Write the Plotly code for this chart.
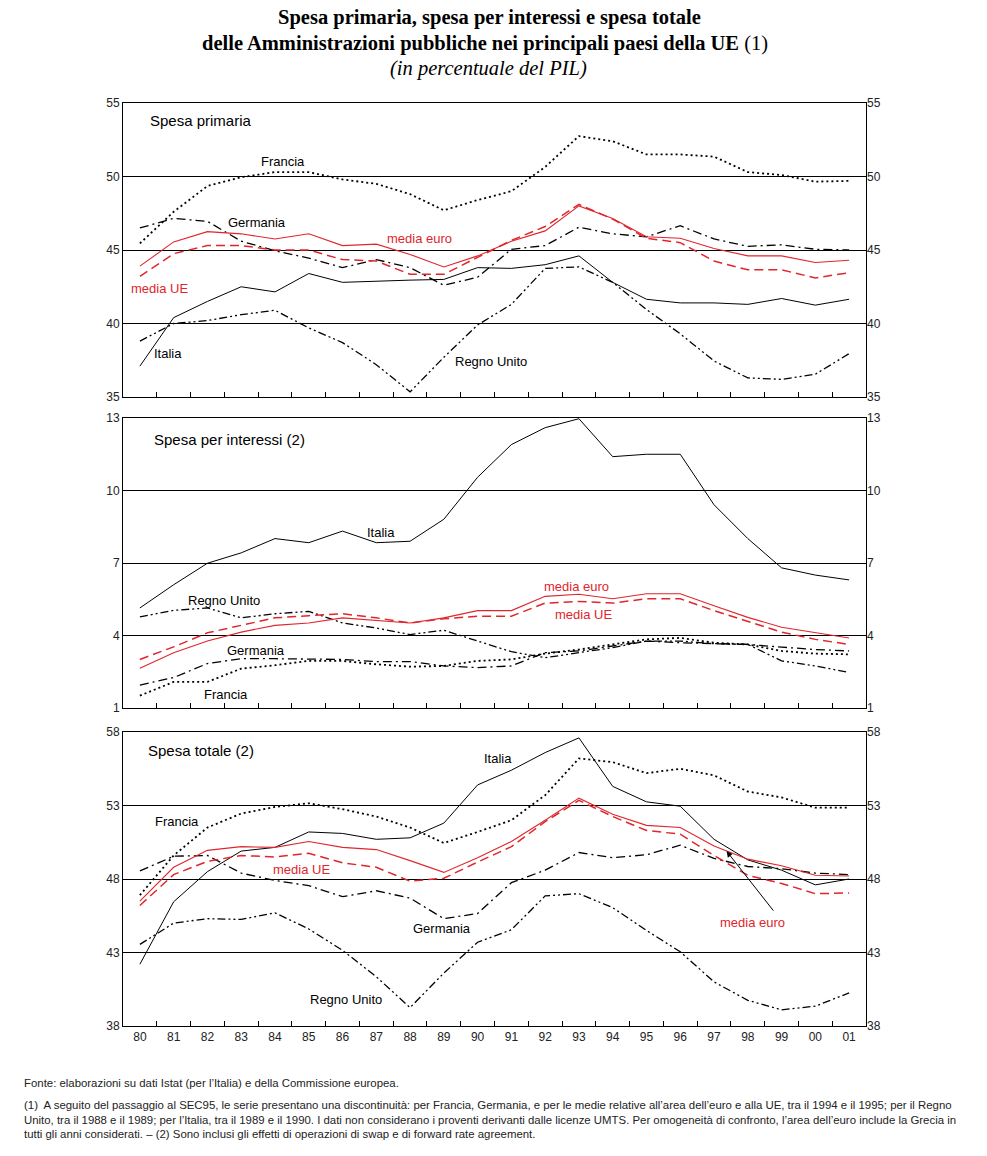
import plotly.graph_objects as go

years = ["80", "81", "82", "83", "84", "85", "86", "87", "88", "89", "90",
         "91", "92", "93", "94", "95", "96", "97", "98", "99", "00", "01"]

# Panel 1 - Spesa primaria
p_italia = [37.1, 40.4, 41.5, 42.5, 42.15, 43.4, 42.8, 42.9, 42.95, 43.0, 43.8,
            43.75, 44.0, 44.6, 42.8, 41.65, 41.4, 41.4, 41.3, 41.7, 41.25, 41.65]
p_francia = [45.45, 47.6, 49.35, 49.95, 50.3, 50.3, 49.8, 49.5, 48.8, 47.7, 48.4,
             49.0, 50.65, 52.75, 52.4, 51.5, 51.5, 51.35, 50.3, 50.1, 49.65, 49.7]
p_germania = [46.5, 47.15, 46.95, 45.6, 44.95, 44.45, 43.8, 44.35, 43.8, 42.6, 43.15,
              45.05, 45.3, 46.55, 46.1, 45.9, 46.65, 45.75, 45.25, 45.35, 45.05, 45.0]
p_regno = [38.8, 40.0, 40.2, 40.6, 40.9, 39.7, 38.7, 37.2, 35.35, 37.7, 39.9,
           41.3, 43.75, 43.85, 42.8, 40.95, 39.3, 37.45, 36.3, 36.2, 36.55, 37.95]
p_euro = [43.9, 45.55, 46.25, 46.1, 45.75, 46.1, 45.3, 45.4, 44.7, 43.85, 44.6,
          45.6, 46.3, 48.0, 47.15, 45.9, 45.8, 45.1, 44.6, 44.6, 44.15, 44.3]
p_ue = [43.2, 44.75, 45.3, 45.3, 45.0, 45.0, 44.35, 44.25, 43.35, 43.35, 44.5,
        45.65, 46.6, 48.1, 47.1, 45.8, 45.5, 44.25, 43.65, 43.65, 43.1, 43.45]

# Panel 2 - Spesa per interessi
i_italia = [5.14, 6.1, 6.99, 7.42, 8.01, 7.84, 8.32, 7.84, 7.9, 8.81, 10.55,
            11.9, 12.6, 12.97, 11.4, 11.5, 11.5, 9.41, 8.01, 6.8, 6.5, 6.3]
i_regno = [4.77, 5.04, 5.14, 4.73, 4.9, 5.0, 4.52, 4.31, 4.04, 4.22, 3.77,
           3.33, 3.08, 3.29, 3.5, 3.77, 3.77, 3.66, 3.63, 2.95, 2.74, 2.47]
i_germania = [1.95, 2.26, 2.84, 3.04, 3.04, 3.04, 3.01, 2.92, 2.92, 2.74, 2.67,
              2.74, 3.29, 3.36, 3.56, 3.77, 3.7, 3.66, 3.63, 3.52, 3.42, 3.36]
i_francia = [1.51, 2.08, 2.08, 2.63, 2.77, 2.95, 2.95, 2.81, 2.71, 2.74, 2.95,
             3.01, 3.25, 3.42, 3.63, 3.84, 3.9, 3.7, 3.63, 3.36, 3.25, 3.22]
i_euro = [2.64, 3.29, 3.77, 4.14, 4.42, 4.52, 4.73, 4.62, 4.52, 4.73, 5.03,
          5.03, 5.62, 5.71, 5.52, 5.73, 5.73, 5.23, 4.75, 4.34, 4.11, 3.9]
i_ue = [3.01, 3.53, 4.11, 4.41, 4.73, 4.82, 4.9, 4.73, 4.52, 4.69, 4.8,
        4.8, 5.34, 5.41, 5.34, 5.52, 5.52, 5.03, 4.59, 4.14, 3.84, 3.63]

# Panel 3 - Spesa totale
t_italia = [42.2, 46.45, 48.5, 49.9, 50.15, 51.2, 51.1, 50.7, 50.8, 51.8, 54.4,
            55.4, 56.6, 57.6, 54.3, 53.25, 52.95, 50.7, 49.3, 48.6, 47.6, 48.0]
t_francia = [46.9, 49.6, 51.5, 52.45, 52.9, 53.15, 52.75, 52.25, 51.5, 50.45, 51.2,
             52.0, 53.7, 56.2, 55.95, 55.2, 55.5, 55.05, 53.95, 53.55, 52.85, 52.85]
t_germania = [48.55, 49.55, 49.6, 48.4, 47.9, 47.55, 46.8, 47.2, 46.7, 45.3, 45.65,
              47.75, 48.6, 49.8, 49.45, 49.65, 50.3, 49.4, 48.85, 48.7, 48.4, 48.3]
t_regno = [43.55, 45.0, 45.3, 45.25, 45.7, 44.6, 43.15, 41.35, 39.25, 41.6, 43.7,
           44.55, 46.85, 47.0, 46.05, 44.5, 43.05, 41.0, 39.75, 39.1, 39.35, 40.25]
t_euro = [46.5, 48.8, 49.95, 50.2, 50.15, 50.55, 50.15, 50.0, 49.25, 48.45, 49.45,
          50.55, 52.0, 53.5, 52.4, 51.65, 51.5, 50.25, 49.35, 48.9, 48.25, 48.2]
t_ue = [46.2, 48.3, 49.2, 49.6, 49.5, 49.75, 49.1, 48.8, 47.85, 48.05, 49.15,
        50.2, 51.9, 53.35, 52.25, 51.3, 51.05, 49.6, 48.25, 47.7, 47.0, 47.05]

RED = "#e0262d"
BLACK = "#000000"
styles = {
    "Italia": dict(color=BLACK, width=1, dash="solid"),
    "Francia": dict(color=BLACK, width=1.8, dash="2px,3px"),
    "Germania": dict(color=BLACK, width=1.3, dash="9px,4px,2px,4px"),
    "Regno Unito": dict(color=BLACK, width=1.3, dash="8px,3px,2px,3px,2px,3px"),
    "media euro": dict(color=RED, width=1.1, dash="solid"),
    "media UE": dict(color=RED, width=1.5, dash="9px,5px"),
}

panels = [
    ("x", "y", {"Italia": p_italia, "Francia": p_francia, "Germania": p_germania,
                "Regno Unito": p_regno, "media euro": p_euro, "media UE": p_ue}),
    ("x2", "y2", {"Italia": i_italia, "Francia": i_francia, "Germania": i_germania,
                  "Regno Unito": i_regno, "media euro": i_euro, "media UE": i_ue}),
    ("x3", "y3", {"Italia": t_italia, "Francia": t_francia, "Germania": t_germania,
                  "Regno Unito": t_regno, "media euro": t_euro, "media UE": t_ue}),
]

fig = go.Figure()
for xa, ya, series in panels:
    for name, vals in series.items():
        fig.add_trace(go.Scatter(x=years, y=vals, xaxis=xa, yaxis=ya, mode="lines",
                                 line=styles[name], name=name, showlegend=False,
                                 hoverinfo="skip"))
# invisible traces to carry the right-hand axes
for xa, ya, series in zip(["x", "x2", "x3"], ["y4", "y5", "y6"], [p[2] for p in panels]):
    fig.add_trace(go.Scatter(x=years, y=series["Italia"], xaxis=xa, yaxis=ya, mode="lines",
                             line=dict(width=0), opacity=0, showlegend=False,
                             hoverinfo="skip"))

L, R, T, B = 123, 121, 103, 130
W, H = 987, 1156
PH = H - T - B
PW = W - L - R


def fy(py):
    return (H - B - py) / PH


def fx(px):
    return (px - L) / PW


dom1 = [fy(397), fy(103)]
dom2 = [fy(708), fy(418)]
dom3 = [fy(1026), fy(732)]

tickfont = dict(family="Liberation Sans, Arial, sans-serif", size=12, color="#222")


def xaxis(anchor, labels):
    return dict(anchor=anchor, type="category", range=[-0.5, 21.5],
                tickson="boundaries", ticks="inside", ticklen=5, tickcolor=BLACK,
                showline=True, linecolor=BLACK, linewidth=1, mirror=True,
                showgrid=False, zeroline=False, showticklabels=labels,
                tickfont=tickfont, fixedrange=True)


def yaxis(anchor, dom, rng, dt):
    return dict(anchor=anchor, domain=dom, range=rng, tick0=rng[0], dtick=dt,
                showgrid=True, gridcolor=BLACK, gridwidth=1, zeroline=False,
                showline=True, linecolor=BLACK, linewidth=1, mirror=True,
                ticks="", tickfont=tickfont, fixedrange=True)


def yright(over, anchor, rng, dt):
    return dict(overlaying=over, anchor=anchor, side="right", range=rng,
                tick0=rng[0], dtick=dt, showgrid=False, zeroline=False,
                showline=False, ticks="", tickfont=tickfont, fixedrange=True)


fig.update_layout(
    width=W, height=H,
    margin=dict(l=L, r=R, t=T, b=B),
    paper_bgcolor="white", plot_bgcolor="white",
    xaxis=xaxis("y", False), xaxis2=xaxis("y2", False), xaxis3=xaxis("y3", True),
    yaxis=yaxis("x", dom1, [35, 55], 5),
    yaxis2=yaxis("x2", dom2, [1, 13], 3),
    yaxis3=yaxis("x3", dom3, [38, 58], 5),
    yaxis4=yright("y", "x", [35, 55], 5),
    yaxis5=yright("y2", "x2", [1, 13], 3),
    yaxis6=yright("y3", "x3", [38, 58], 5),
)

lab = dict(family="Liberation Sans, Arial, sans-serif", size=13, color=BLACK)
labr = dict(family="Liberation Sans, Arial, sans-serif", size=13, color=RED)
head = dict(family="Liberation Sans, Arial, sans-serif", size=15, color=BLACK)

ann = []


def add(text, x, y, xr, yr, font, xanchor="center"):
    ann.append(dict(text=text, x=x, y=y, xref=xr, yref=yr, showarrow=False,
                    font=font, xanchor=xanchor, yanchor="middle"))


# Panel 1 labels
add("Spesa primaria", 0.24, 53.8, "x", "y", head, "left")
add("Francia", 4.23, 51.04, "x", "y", lab)
add("Germania", 3.46, 46.9, "x", "y", lab)
add("media euro", 8.28, 45.8, "x", "y", labr)
add("media UE", 0.59, 42.4, "x", "y", labr)
add("Italia", 0.83, 37.98, "x", "y", lab)
add("Regno Unito", 10.41, 37.44, "x", "y", lab)
# Panel 2 labels
add("Spesa per interessi (2)", 0.36, 12.13, "x2", "y2", head, "left")
add("Italia", 7.13, 8.28, "x2", "y2", lab)
add("Regno Unito", 2.49, 5.45, "x2", "y2", lab)
add("Germania", 3.43, 3.4, "x2", "y2", lab)
add("Francia", 2.54, 1.56, "x2", "y2", lab)
add("media euro", 12.93, 6.02, "x2", "y2", labr)
add("media UE", 13.14, 4.88, "x2", "y2", labr)
# Panel 3 labels
add("Spesa totale (2)", 0.18, 56.77, "x3", "y3", head, "left")
add("Italia", 10.59, 56.22, "x3", "y3", lab)
add("Francia", 1.09, 51.94, "x3", "y3", lab)
add("media UE", 4.79, 48.67, "x3", "y3", labr)
add("Germania", 8.96, 44.66, "x3", "y3", lab)
add("Regno Unito", 6.09, 39.83, "x3", "y3", lab)
add("media euro", 18.14, 45.07, "x3", "y3", labr)
ann.append(dict(x=17.37, y=49.9, ax=18.79, ay=45.75, xref="x3", yref="y3",
                axref="x3", ayref="y3", showarrow=True, arrowhead=2, arrowsize=1.2,
                arrowwidth=1, arrowcolor=BLACK, text=""))

# Title
serif = "Liberation Serif, Times New Roman, serif"
add("<b>Spesa primaria, spesa per interessi e spesa totale</b>", fx(489), fy(18),
    "paper", "paper", dict(family=serif, size=20.5, color=BLACK))
add("<b>delle Amministrazioni pubbliche nei principali paesi della UE</b> (1)", fx(485), fy(43),
    "paper", "paper", dict(family=serif, size=20.5, color=BLACK))
add("<i>(in percentuale del PIL)</i>", fx(488), fy(68),
    "paper", "paper", dict(family=serif, size=20.5, color=BLACK))

# Footnotes
note = dict(family="Liberation Sans Narrow, Arial Narrow, Liberation Sans, sans-serif",
            size=11.4, color="#222")
add("Fonte: elaborazioni su dati Istat (per l’Italia) e della Commissione europea.",
    fx(22), fy(1083), "paper", "paper", note, "left")
add("(1)  A seguito del passaggio al SEC95, le serie presentano una discontinuità: per Francia, "
    "Germania, e per le medie relative all’area dell’euro e alla UE, tra il 1994 e il 1995; per il Regno",
    fx(22), fy(1105), "paper", "paper", note, "left")
add("Unito, tra il 1988 e il 1989; per l’Italia, tra il 1989 e il 1990. I dati non considerano i "
    "proventi derivanti dalle licenze UMTS. Per omogeneità di confronto, l’area dell’euro include la Grecia in",
    fx(22), fy(1120), "paper", "paper", note, "left")
add("tutti gli anni considerati. – (2) Sono inclusi gli effetti di operazioni di swap e di forward "
    "rate agreement.", fx(22), fy(1134), "paper", "paper", note, "left")

fig.update_layout(annotations=ann)
fig.write_html("out.html", config={"displayModeBar": False},
               post_script="document.body.style.margin='0';")
